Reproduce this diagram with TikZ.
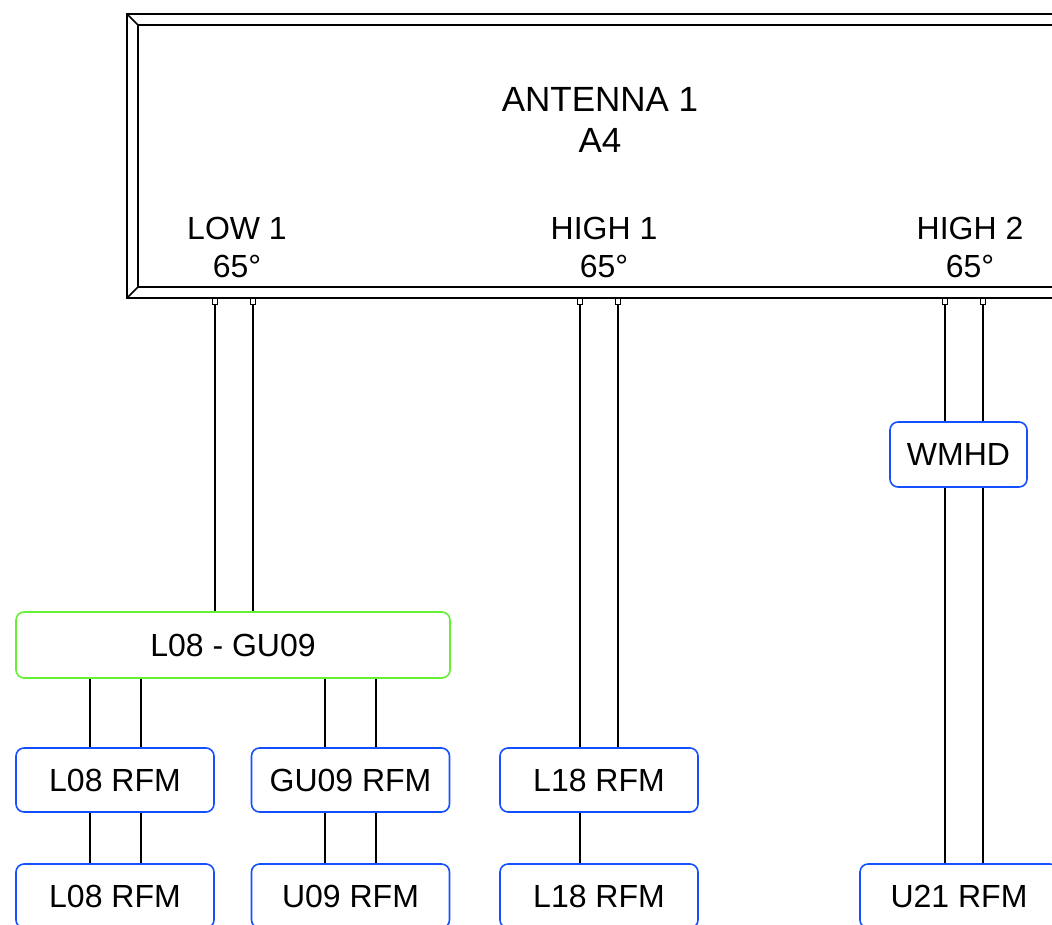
\documentclass[tikz,border=0pt]{standalone}
\usepackage{fontspec}
\setmainfont{Liberation Sans}
\usepackage{tikz}

\definecolor{rfblue}{RGB}{20,80,255}
\definecolor{rfgreen}{RGB}{102,240,51}

\tikzset{
  unit/.style={draw=rfblue, line width=1.6pt, rounded corners=8pt, fill=white,
    font=\fontsize{32}{38}\selectfont, inner sep=0pt, minimum height=64pt},
  rfm/.style={unit, minimum width=198pt},
  combiner/.style={unit, draw=rfgreen, minimum width=434pt, minimum height=66pt},
  port/.style={draw, line width=1.2pt, minimum width=5pt, minimum height=6pt,
    inner sep=0pt, anchor=north},
  feeder/.style={line width=1.4pt},
  band/.style={align=center, font=\fontsize{32}{38}\selectfont},
  frame/.style={line width=1.5pt},
}

\begin{document}
\begin{tikzpicture}[x=1pt,y=-1pt]
\clip (0,0) rectangle (1052,924);
% antenna frame
\node[draw, frame, minimum width=946pt, minimum height=284pt, inner sep=0pt, outer sep=0pt] (ant) at (600,156) {};
\draw[frame] ([shift={(11,11)}]ant.north west) rectangle ([shift={(-11,-11)}]ant.south east);
\draw[frame] (ant.north west) -- ++(11,11) (ant.south west) -- ++(11,-11)
  (ant.north east) -- ++(-11,11) (ant.south east) -- ++(-11,-11);
\node[band, font=\fontsize{35}{41}\selectfont] (title) at (600,120) {ANTENNA 1\\A4};
\node[band] (low1) at (237,247) {LOW 1\\65°};
\node[band] (high1) at (604,247) {HIGH 1\\65°};
\node[band] (high2) at (970,247) {HIGH 2\\65°};
% ports
\foreach \n/\x in {l1a/215, l1b/253, h1a/580, h1b/618, h2a/945, h2b/983}
  \node[port] (\n) at (\x,298) {};
% units
\node[rfm, minimum width=137pt, minimum height=65pt] (wmhd) at (958.5,454.5) {WMHD};
\node[combiner] (lg) at (233,645) {L08 - GU09};
\node[rfm] (l08a) at (115,780) {L08 RFM};
\node[rfm] (gu09) at (350.5,780) {GU09 RFM};
\node[rfm] (l18a) at (599,780) {L18 RFM};
\node[rfm] (l08b) at (115,896) {L08 RFM};
\node[rfm] (u09) at (350.5,896) {U09 RFM};
\node[rfm] (l18b) at (599,896) {L18 RFM};
\node[rfm] (u21) at (959,896) {U21 RFM};
% feeders
\foreach \p/\t in {l1a/lg, l1b/lg, h1a/l18a, h1b/l18a, h2a/wmhd, h2b/wmhd}
  \draw[feeder] (\p.south) -- (\p.south |- \t.north);
\foreach \s/\t/\dx in {lg/l08a/-25, lg/l08a/26, lg/gu09/-25.5, lg/gu09/25.5,
    l08a/l08b/-25, l08a/l08b/26, gu09/u09/-25.5, gu09/u09/25.5}{
  \coordinate (e) at ([xshift=\dx pt]\t.north);
  \draw[feeder] (e) -- (e |- \s.south);
}
\draw[feeder] (h1a |- l18a.south) -- (h1a |- l18b.north);
\draw[feeder] (h2a |- wmhd.south) -- (h2a |- u21.north);
\draw[feeder] (h2b |- wmhd.south) -- (h2b |- u21.north);
\end{tikzpicture}
\end{document}
